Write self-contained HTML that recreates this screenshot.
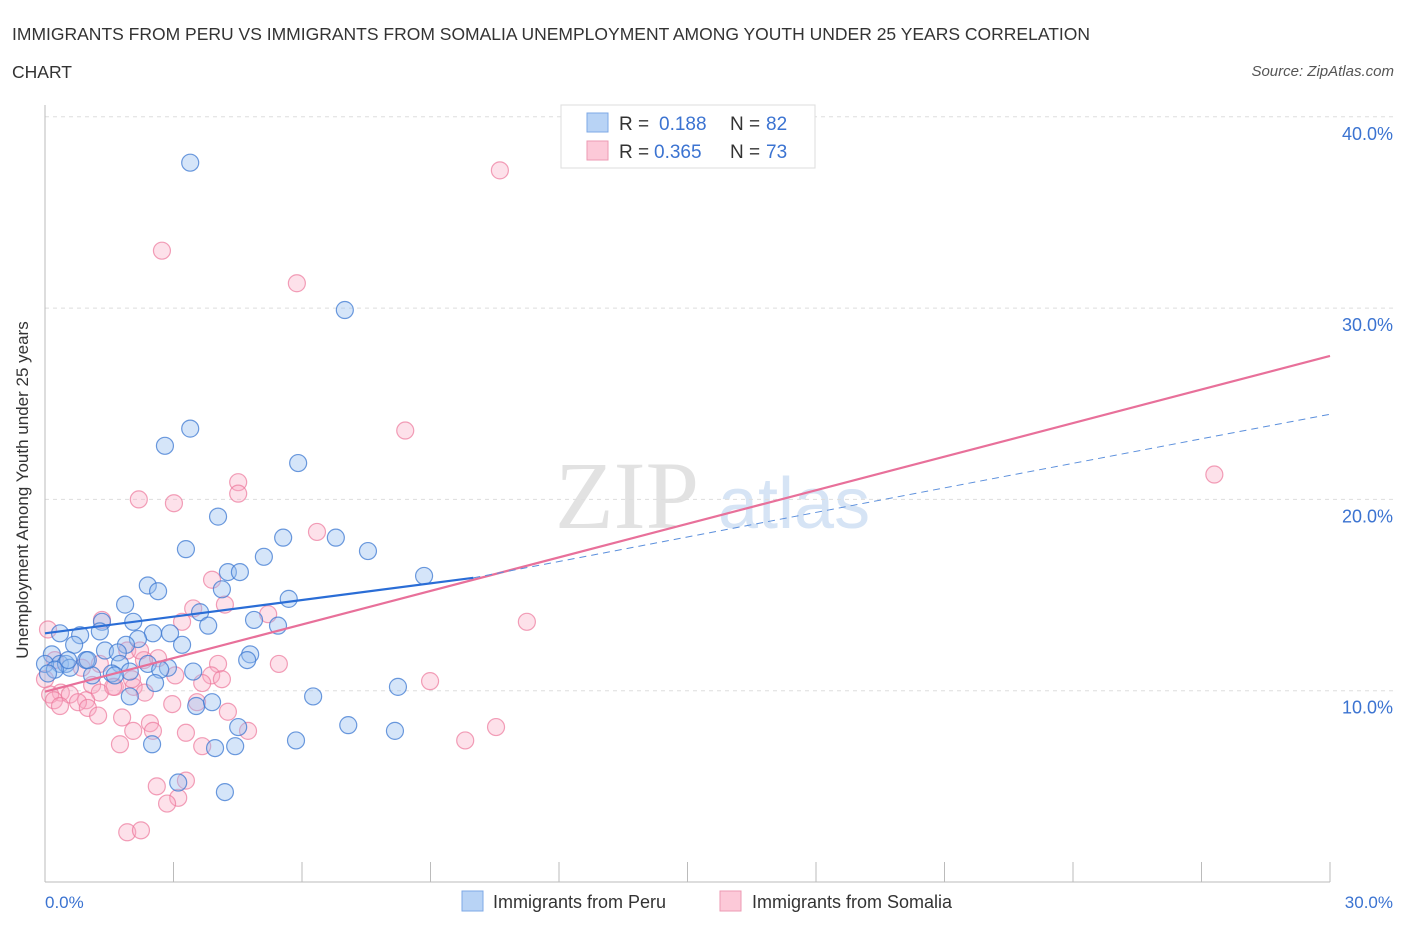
<!DOCTYPE html>
<html><head><meta charset="utf-8"><style>
body{margin:0;background:#fff;font-family:"Liberation Sans",sans-serif}
svg text{font-family:"Liberation Sans",sans-serif}
</style></head><body>
<svg width="1406" height="930" xmlns="http://www.w3.org/2000/svg">
<text x="12" y="40" font-size="17.5" fill="#333">IMMIGRANTS FROM PERU VS IMMIGRANTS FROM SOMALIA UNEMPLOYMENT AMONG YOUTH UNDER 25 YEARS CORRELATION</text>
<text x="12" y="78" font-size="17.5" fill="#333">CHART</text>
<text x="1394" y="76" font-size="15" fill="#555" font-style="italic" text-anchor="end">Source: ZipAtlas.com</text>
<g>
<text x="555" y="528" font-size="96" fill="#e2e2e2" font-family="Liberation Serif" style="font-family:'Liberation Serif',serif">ZIP</text>
<text x="718" y="528" font-size="72" fill="#d6e4f5">atlas</text>
</g>
<g id="grid"></g>
<line x1="45" y1="105" x2="45" y2="882" stroke="#bbb"/>
<line x1="45" y1="882" x2="1330" y2="882" stroke="#bbb"/>
<g id="xticks"></g>
<text x="28" y="490" font-size="17" fill="#333" text-anchor="middle" transform="rotate(-90 28 490)">Unemployment Among Youth under 25 years</text>
<text x="45" y="908" font-size="17" fill="#3b73d1">0.0%</text>
<text x="1393" y="908" font-size="17" fill="#3b73d1" text-anchor="end">30.0%</text>
<g id="pts"></g>
<g id="lines"></g>
<g>
<rect x="561" y="105" width="254" height="63" fill="#fff" stroke="#ddd"/>
<rect x="587" y="113" width="21" height="19" fill="#b8d3f5" stroke="#7ea8e6"/>
<rect x="587" y="141" width="21" height="19" fill="#fcc9d8" stroke="#ec9ab3"/>
<text x="619" y="130" font-size="19" fill="#333">R = </text><text x="659" y="130" font-size="19" fill="#3b73d1">0.188</text>
<text x="730" y="130" font-size="19" fill="#333">N = </text><text x="766" y="130" font-size="19" fill="#3b73d1">82</text>
<text x="619" y="158" font-size="19" fill="#333">R = </text><text x="654" y="158" font-size="19" fill="#3b73d1">0.365</text>
<text x="730" y="158" font-size="19" fill="#333">N = </text><text x="766" y="158" font-size="19" fill="#3b73d1">73</text>
</g>
<g>
<rect x="462" y="891" width="21" height="20" fill="#b8d3f5" stroke="#7ea8e6"/>
<text x="493" y="908" font-size="18" fill="#333">Immigrants from Peru</text>
<rect x="720" y="891" width="21" height="20" fill="#fcc9d8" stroke="#ec9ab3"/>
<text x="752" y="908" font-size="18" fill="#333">Immigrants from Somalia</text>
</g>
</svg>
<script>
const yTicks=[10,20,30,40];
const yTickLabels=["10.0%","20.0%","30.0%","40.0%"];
const xTickVals=[0,3,6,9,12,15,18,21,24,27,30];
const peruX=[3.39,7.0,2.80,3.39,5.91,4.04,3.29,5.56,6.79,7.54,5.11,8.85,4.27,4.55,2.40,2.64,4.13,5.69,1.87,3.62,2.06,4.88,1.33,3.81,5.44,0.35,0.82,1.28,2.52,2.92,2.17,1.89,3.20,0.68,1.40,1.70,4.79,4.72,0.16,0.96,1.75,2.40,0.35,0.49,0.58,0,0.23,2.87,3.46,1.56,1.98,2.69,1.63,1.10,0.54,0.07,2.57,1.98,3.53,3.90,6.26,8.24,4.51,7.08,8.17,5.86,2.50,3.97,4.44,3.11,4.20,1.0];
const peruY=[37.6,29.9,22.8,23.7,21.9,19.1,17.4,18.0,18.0,17.3,17.0,16.0,16.2,16.2,15.5,15.2,15.3,14.8,14.5,14.1,13.6,13.7,13.6,13.4,13.4,13.0,12.9,13.1,13.0,13.0,12.7,12.4,12.4,12.4,12.1,12.0,11.9,11.6,11.9,11.6,11.4,11.4,11.4,11.4,11.2,11.4,11.1,11.2,11.0,10.9,11.0,11.1,10.8,10.8,11.6,10.9,10.4,9.7,9.2,9.4,9.7,10.2,8.1,8.2,7.9,7.4,7.2,7.0,7.1,5.2,4.7,11.6];
const somX=[10.62,2.73,5.88,8.41,27.3,4.51,4.51,2.19,3.01,6.35,3.90,3.46,4.20,5.21,1.33,3.20,11.25,0.07,1.92,2.64,2.31,4.04,5.46,1.28,0.86,3.04,3.88,4.13,3.67,8.99,1.63,1.10,2.07,1.28,0.37,0.12,0.21,0.58,0.96,2.33,1.59,3.55,0.35,0.77,1.0,2.97,4.27,1.24,1.80,2.45,9.81,10.53,2.52,2.06,4.74,3.29,1.75,3.67,2.61,3.29,3.11,2.85,1.92,2.24,0.23,0,2.03,2.22];
const somY=[37.2,33.0,31.3,23.6,21.3,20.9,20.3,20.0,19.8,18.3,15.8,14.3,14.5,14.0,13.7,13.6,13.6,13.2,12.1,11.7,11.6,11.4,11.4,11.4,11.2,10.8,10.8,10.6,10.4,10.5,10.2,10.3,10.2,9.9,9.9,9.8,9.5,9.8,9.5,9.9,10.2,9.4,9.2,9.4,9.1,9.3,8.9,8.7,8.6,8.3,7.4,8.1,7.9,7.9,7.9,7.8,7.2,7.1,5.0,5.3,4.4,4.1,2.6,2.7,11.6,10.6,10.6,12.1];
const peruLine=[[0,13.0],[10,15.9]];
const peruDash=[[10,15.9],[30,24.45]];
const somLine=[[0,9.95],[30,27.5]];
const NS="http://www.w3.org/2000/svg";
const xs=v=>45+v/30*1285, ys=v=>882-v*19.13;
function mk(t,a,p){const e=document.createElementNS(NS,t);for(const k in a)e.setAttribute(k,a[k]);p.appendChild(e);return e;}
const grid=document.getElementById('grid');
yTicks.forEach((v,i)=>{
 const l=mk('line',{x1:45,x2:1393,y1:ys(v),y2:ys(v),stroke:'#ddd','stroke-dasharray':'4,4'},grid);
 
 
 const t=mk('text',{x:1393,y:ys(v)+23,'font-size':18,fill:'#3b73d1','text-anchor':'end'},grid);
 t.textContent=yTickLabels[i];
 
 
});
const xt=document.getElementById('xticks');
xTickVals.forEach(v=>{
 const l=mk('line',{x1:xs(v),x2:xs(v),y1:862,y2:882,stroke:'#bbb'},xt);
 
 
});
const pts=document.getElementById('pts');
somX.forEach((x,i)=>{
 const c=mk('circle',{cx:xs(x),cy:ys(somY[i]),r:8.5,fill:'rgba(248,170,195,0.35)',stroke:'rgba(236,120,155,0.7)','stroke-width':1.2},pts);
 
 
});
peruX.forEach((x,i)=>{
 const c=mk('circle',{cx:xs(x),cy:ys(peruY[i]),r:8.5,fill:'rgba(150,190,240,0.4)',stroke:'rgba(60,120,210,0.75)','stroke-width':1.2},pts);
 
 
});
const lg=document.getElementById('lines');
let a=mk('line',{x1:xs(somLine[0][0]),y1:ys(somLine[0][1]),x2:xs(somLine[1][0]),y2:ys(somLine[1][1]),stroke:'#e8709a','stroke-width':2.2},lg);


a=mk('line',{x1:xs(peruDash[0][0]),y1:ys(peruDash[0][1]),x2:xs(peruDash[1][0]),y2:ys(peruDash[1][1]),stroke:'#5b8fdc','stroke-width':1,'stroke-dasharray':'7,5'},lg);


a=mk('line',{x1:xs(peruLine[0][0]),y1:ys(peruLine[0][1]),x2:xs(peruLine[1][0]),y2:ys(peruLine[1][1]),stroke:'#2a6dd6','stroke-width':2.2},lg);


</script>
</body></html>
